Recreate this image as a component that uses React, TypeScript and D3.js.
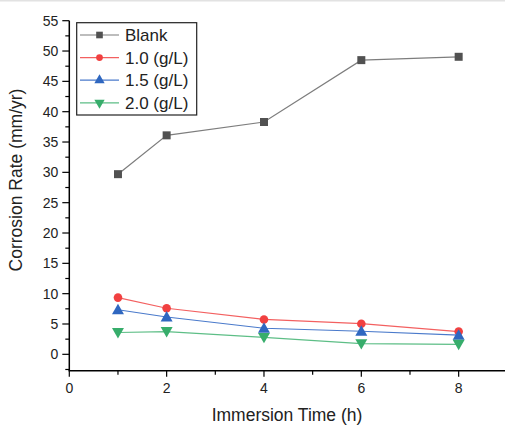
import React from "react";
import * as d3 from "d3";

const times = [1, 2, 4, 6, 8];
const blank = [29.7, 36.1, 38.3, 48.5, 49.05];
const c10 = [9.35, 7.6, 5.75, 5.05, 3.75];
const c15 = [7.35, 6.15, 4.3, 3.8, 3.15];
const c20 = [3.6, 3.75, 2.8, 1.75, 1.65];
const seriesNames = ["Blank", "1.0 (g/L)", "1.5 (g/L)", "2.0 (g/L)"];
const seriesColors = ["#515151", "#F14040", "#2F67C0", "#37AD6B"];
const seriesLine = ["#7d7d7d", "#F36060", "#4A7ACB", "#5DBE86"];
const xTicks = [0, 2, 4, 6, 8];
const xMinor = [1, 3, 5, 7];
const yTicks = [0, 5, 10, 15, 20, 25, 30, 35, 40, 45, 50, 55];
const yMinor = [-2.5, 2.5, 7.5, 12.5, 17.5, 22.5, 27.5, 32.5, 37.5, 42.5, 47.5, 52.5];

const W = 505;
const H = 426;
const FONT = "'Liberation Sans', Arial, sans-serif";

export default function App() {
  const x = d3.scaleLinear().domain([0, 9]).range([69.3, 69.3 + 9 * 48.67]);
  const y = d3.scaleLinear().domain([-2.7, 55]).range([370.7, 20.7]);
  const data = [blank, c10, c15, c20];
  const symbols = [d3.symbolSquare, d3.symbolCircle, d3.symbolTriangle, d3.symbolTriangle];
  const line = d3
    .line<number>()
    .x((_, i) => x(times[i]))
    .y((v) => y(v));
  const sym = (k: number, size: number) => d3.symbol().type(symbols[k]).size(size)() as string;
  const x0 = x(0);
  const yb = y(-2.7);

  return (
    <svg
      width={W}
      height={H}
      style={{ position: "absolute", left: 0, top: 0, background: "#fff" }}
      fontFamily={FONT}
    >
      <rect x={0} y={0} width={W} height={H} fill="#fff" />
      <line x1={0} x2={W} y1={0.5} y2={0.5} stroke="#e2e2e2" strokeWidth={2} />
      {/* series */}
      {data.map((vals, k) => (
        <g key={k}>
          <path d={line(vals) as string} fill="none" stroke={seriesLine[k]} strokeWidth={1.2} />
          {vals.map((v, i) => {
            const rot = k === 3 ? 180 : 0;
            const dy = k === 2 ? 1 : k === 3 ? -1 : 0;
            return (
              <path
                key={i}
                d={sym(k, k === 0 ? 64 : k === 1 ? 58 : 62)}
                transform={`translate(${x(times[i])},${y(v) + dy}) rotate(${rot})`}
                fill={seriesColors[k]}
              />
            );
          })}
        </g>
      ))}
      {/* axes */}
      <line x1={x0} x2={x0} y1={y(55)} y2={yb} stroke="#000" strokeWidth={1.5} />
      <line x1={x0 - 0.75} x2={W} y1={yb} y2={yb} stroke="#000" strokeWidth={1.5} />
      {yTicks.map((t) => (
        <g key={"yt" + t}>
          <line x1={x0 - 7} x2={x0} y1={y(t)} y2={y(t)} stroke="#000" strokeWidth={1.2} />
          <text x={x0 - 11} y={y(t) + 5} textAnchor="end" fontSize={14} fill="#222">
            {t}
          </text>
        </g>
      ))}
      {yMinor.map((t) => (
        <line key={"ym" + t} x1={x0 - 4} x2={x0} y1={y(t)} y2={y(t)} stroke="#000" strokeWidth={1.2} />
      ))}
      {xTicks.map((t) => (
        <g key={"xt" + t}>
          <line x1={x(t)} x2={x(t)} y1={yb} y2={yb + 6} stroke="#000" strokeWidth={1.2} />
          <text x={x(t)} y={yb + 22} textAnchor="middle" fontSize={14} fill="#222">
            {t}
          </text>
        </g>
      ))}
      {xMinor.map((t) => (
        <line key={"xm" + t} x1={x(t)} x2={x(t)} y1={yb} y2={yb + 4} stroke="#000" strokeWidth={1.2} />
      ))}
      {/* axis titles */}
      <text x={287} y={421} textAnchor="middle" fontSize={17.5} fill="#222">
        Immersion Time (h)
      </text>
      <text
        transform={`translate(22,180) rotate(-90)`}
        textAnchor="middle"
        fontSize={17.5}
        fill="#222"
      >
        Corrosion Rate (mm/yr)
      </text>
      {/* legend */}
      <rect x={76.7} y={22.7} width={120} height={92.3} fill="#fff" stroke="#222" strokeWidth={1.2} />
      {seriesNames.map((name, k) => {
        const cy = 35 + k * 22.6;
        return (
          <g key={name}>
            <line x1={80} x2={119} y1={cy} y2={cy} stroke={seriesLine[k]} strokeWidth={1.2} />
            <path
              d={sym(k, k === 0 ? 44 : k === 1 ? 36 : 46)}
              transform={`translate(99.5,${cy}) rotate(${k === 3 ? 180 : 0})`}
              fill={seriesColors[k]}
            />
            <text x={125} y={cy + 6} fontSize={17} fill="#222">
              {name}
            </text>
          </g>
        );
      })}
    </svg>
  );
}
